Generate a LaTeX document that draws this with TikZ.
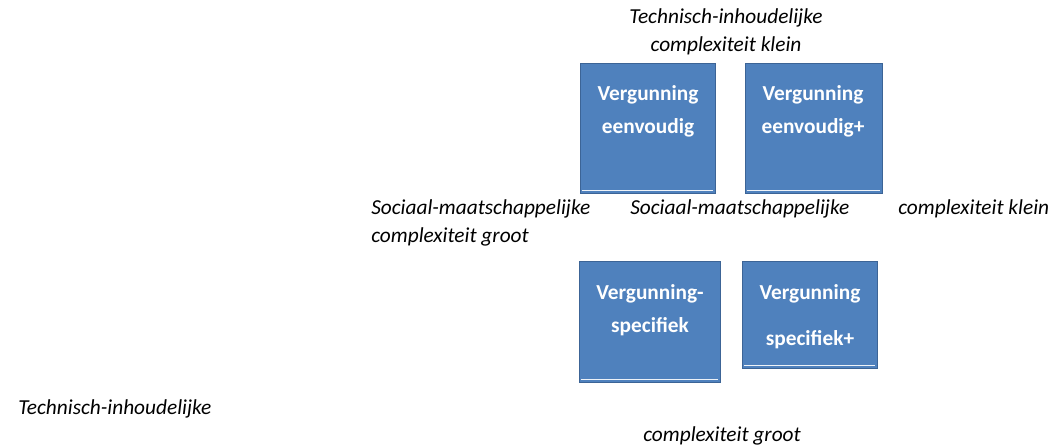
\documentclass[tikz,border=0pt]{standalone}
\usepackage{fontspec}
\setmainfont{Carlito}
\definecolor{boxblue}{RGB}{79,129,189}
\definecolor{boxline}{RGB}{60,100,150}
\tikzset{
  vbox/.style={draw=boxline, fill=boxblue, line width=0.6pt, inner sep=0pt},
  vtext/.style={text=white, font=\fontsize{16}{25}\selectfont\bfseries, align=center, inner sep=0pt},
  axtext/.style={font=\fontsize{16}{21}\selectfont\itshape, inner sep=0pt},
  shine/.style={draw=white!90!boxblue, line width=0.7pt}
}
\begin{document}
\begin{tikzpicture}[x=0.75pt,y=-0.75pt]
\useasboundingbox (0,0) rectangle (1059,448);
% boxes
\node[vbox, minimum width=101.25pt, minimum height=97.5pt] (eenv) at (647.5,128) {};
\node[vbox, minimum width=102.75pt, minimum height=97.5pt] (eenvp) at (813.5,128) {};
\node[vbox, minimum width=105.75pt, minimum height=90.75pt] (spec) at (649.5,321.5) {};
\node[vbox, minimum width=101.25pt, minimum height=80.25pt] (specp) at (809.5,314.5) {};
\foreach \b in {eenv,eenvp,spec,specp}
  \draw[shine] ([xshift=1.5pt,yshift=2.5pt]\b.south west) -- ([xshift=-1.5pt,yshift=2.5pt]\b.south east);
% box texts
\node[vtext, anchor=north] (t1) at (648,85) {Vergunning\\eenvoudig};
\node[vtext, anchor=north] (t2) at (813,85) {Vergunning\\eenvoudig+};
\node[vtext, anchor=north] (t3) at (650,284) {Vergunning-\\specifiek};
\node[vtext, anchor=north, font=\fontsize{16}{34.5}\selectfont\bfseries] (t4) at (810,284) {Vergunning\\specifiek+};
% axis labels
\node[axtext, align=center] (tklein) at (726,32) {Technisch-inhoudelijke\\complexiteit klein};
\node[axtext, align=left, anchor=west] (sgroot) at (371,223) {Sociaal-maatschappelijke\\complexiteit groot};
\node[axtext, anchor=west] (smid) at (630,209) {Sociaal-maatschappelijke};
\node[axtext, anchor=west] (sklein) at (898,209) {complexiteit klein};
\node[axtext, anchor=west] (tleft) at (18,409) {Technisch-inhoudelijke};
\node[axtext, anchor=west] (tgroot) at (643,436) {complexiteit groot};
\end{tikzpicture}
\end{document}
